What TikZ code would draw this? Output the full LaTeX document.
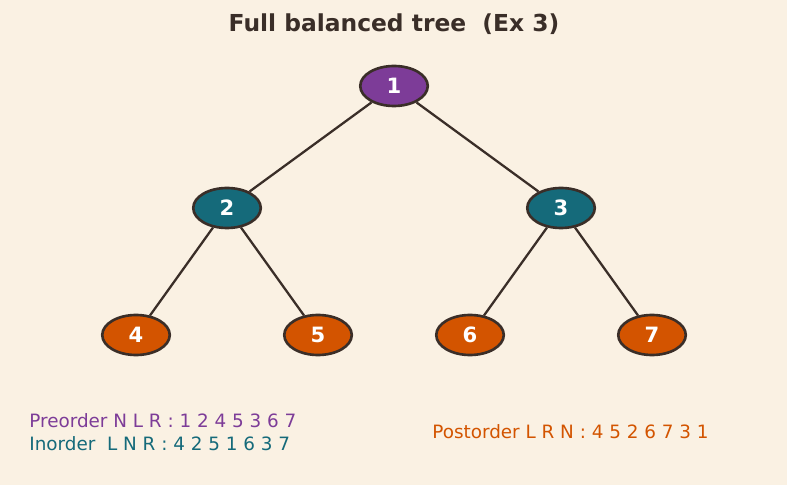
\documentclass[tikz,border=0pt]{standalone}
\usepackage{fontspec}
\setmainfont{DejaVu Sans}
\usetikzlibrary{shapes.geometric}
\definecolor{fondo}{HTML}{FAF1E3}
\definecolor{tinta}{HTML}{3A2E28}
\definecolor{morado}{HTML}{7D3C98}
\definecolor{verdeazul}{HTML}{156A7A}
\definecolor{naranja}{HTML}{D35400}
\begin{document}
\begin{tikzpicture}[
    nodo/.style={ellipse, draw=tinta, line width=1.5pt, minimum width=1.35cm, minimum height=0.8cm, inner sep=0pt, text=white, font=\fontsize{12}{14}\selectfont\bfseries},
    raiz/.style={nodo, fill=morado},
    medio/.style={nodo, fill=verdeazul},
    hoja/.style={nodo, fill=naranja},
    arista/.style={draw=tinta, line width=1.3pt},
    recorrido/.style={anchor=base west, inner sep=0pt, font=\fontsize{10.45}{12}\selectfont}
]
\fill[fondo] (0,0) rectangle (15.74,9.7);
\useasboundingbox (0,0) rectangle (15.74,9.7);

\node[font=\fontsize{13.3}{16}\selectfont\bfseries, text=tinta] (titulo) at (7.88,9.22) {Full balanced tree\ \ (Ex 3)};

\node[raiz] (n1) at (7.88,7.98) {1};
\node[medio] (n2) at (4.54,5.54) {2};
\node[medio] (n3) at (11.22,5.54) {3};
\node[hoja] (n4) at (2.72,3.00) {4};
\node[hoja] (n5) at (6.36,3.00) {5};
\node[hoja] (n6) at (9.40,3.00) {6};
\node[hoja] (n7) at (13.04,3.00) {7};

\draw[arista] (n1) -- (n2);
\draw[arista] (n1) -- (n3);
\draw[arista] (n2) -- (n4);
\draw[arista] (n2) -- (n5);
\draw[arista] (n3) -- (n6);
\draw[arista] (n3) -- (n7);

\node[recorrido, text=morado] (pre) at (0.58,1.16) {Preorder N L R : 1 2 4 5 3 6 7};
\node[recorrido, text=verdeazul] (in) at (0.58,0.70) {Inorder\ \ L N R : 4 2 5 1 6 3 7};
\node[recorrido, text=naranja] (post) at (8.64,0.94) {Postorder L R N : 4 5 2 6 7 3 1};
\end{tikzpicture}
\end{document}
